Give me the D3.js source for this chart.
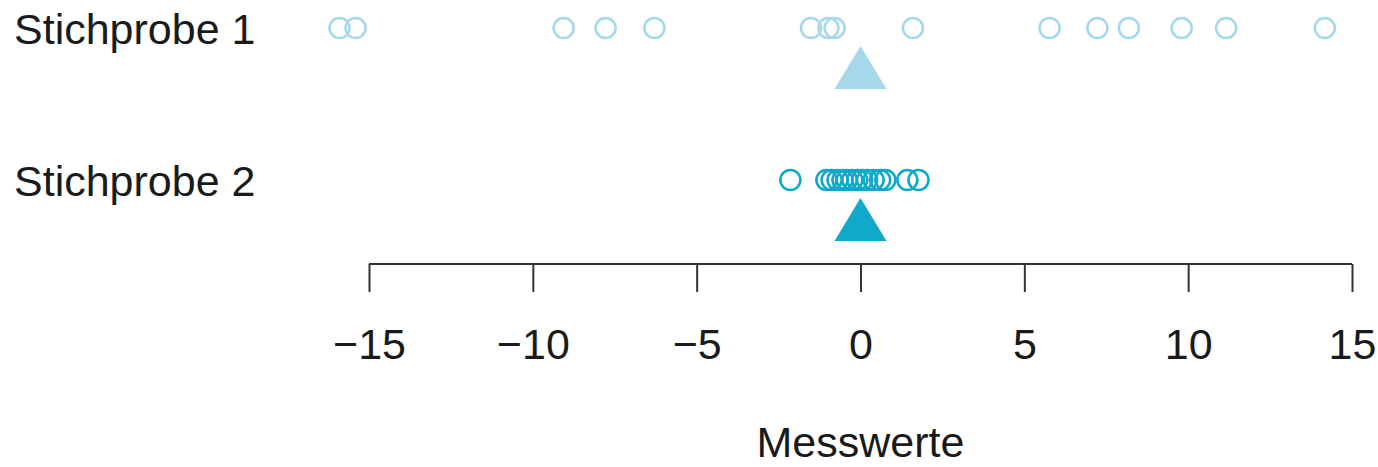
<!DOCTYPE html>
<html><head><meta charset="utf-8">
<script src="https://cdn.jsdelivr.net/npm/d3@7"></script>
<style>html,body{margin:0;padding:0;background:#fff;}svg{display:block;}</style>
</head><body>
<script>
const samples = ["Stichprobe 1", "Stichprobe 2"];
const sample1 = [-15.9, -15.41, -9.06, -7.78, -6.29, -1.51, -0.98, -0.79, 1.6, 5.77, 7.23, 8.19, 9.8, 11.16, 14.17];
const sample2 = [-2.14, -1.04, -0.88, -0.7, -0.55, -0.42, -0.25, -0.1, 0.05, 0.2, 0.4, 0.6, 0.76, 1.43, 1.77];
const means = [0, 0];
const ticks = [-15, -10, -5, 0, 5, 10, 15];
const xLabel = "Messwerte";
const colors = ["#a6d8ec", "#10a9c9"];

const W = 1378, H = 467;
const svg = d3.select("body").append("svg").attr("width", W).attr("height", H);
const x = d3.scaleLinear().domain([-15, 15]).range([369, 1352]);
const y = d3.scalePoint().domain(samples).range([28, 180]);
const font = "'Liberation Sans', Arial, Helvetica, sans-serif";
const fs = 43;

const data = [sample1, sample2];
samples.forEach((s, i) => {
  svg.append("text").attr("x", 14).attr("y", y(s) + 16)
    .attr("font-family", font).attr("font-size", fs).attr("fill", "#1a1a1a").text(s);
  svg.append("g").selectAll("circle").data(data[i]).join("circle")
    .attr("cx", d => x(d)).attr("cy", y(s)).attr("r", 10)
    .attr("fill", "none").attr("stroke", colors[i]).attr("stroke-width", 2.6);
  const cx = x(means[i]), top = y(s) + 18, bot = y(s) + 61;
  svg.append("path").attr("d", `M${cx},${top}L${cx + 26},${bot}L${cx - 26},${bot}Z`)
    .attr("fill", colors[i]);
});

const axisY = 264;
const axis = d3.axisBottom(x).tickValues(ticks).tickSize(28).tickPadding(10)
  .tickFormat(d => d < 0 ? "\u2212" + Math.abs(d) : String(d));
const g = svg.append("g").attr("transform", `translate(0,${axisY})`).call(axis);
g.select(".domain").attr("d", `M${x(-15)},0H${x(15)}`).attr("stroke", "#333").attr("stroke-width", 2);
g.selectAll(".tick line").attr("stroke", "#333").attr("stroke-width", 2);
g.selectAll(".tick text").attr("font-family", font).attr("font-size", fs).attr("fill", "#1a1a1a")
  .attr("dy", null).attr("y", 95);

svg.append("text").attr("x", x(0)).attr("y", 457).attr("text-anchor", "middle")
  .attr("font-family", font).attr("font-size", fs).attr("fill", "#1a1a1a").text(xLabel);
</script>
</body></html>
